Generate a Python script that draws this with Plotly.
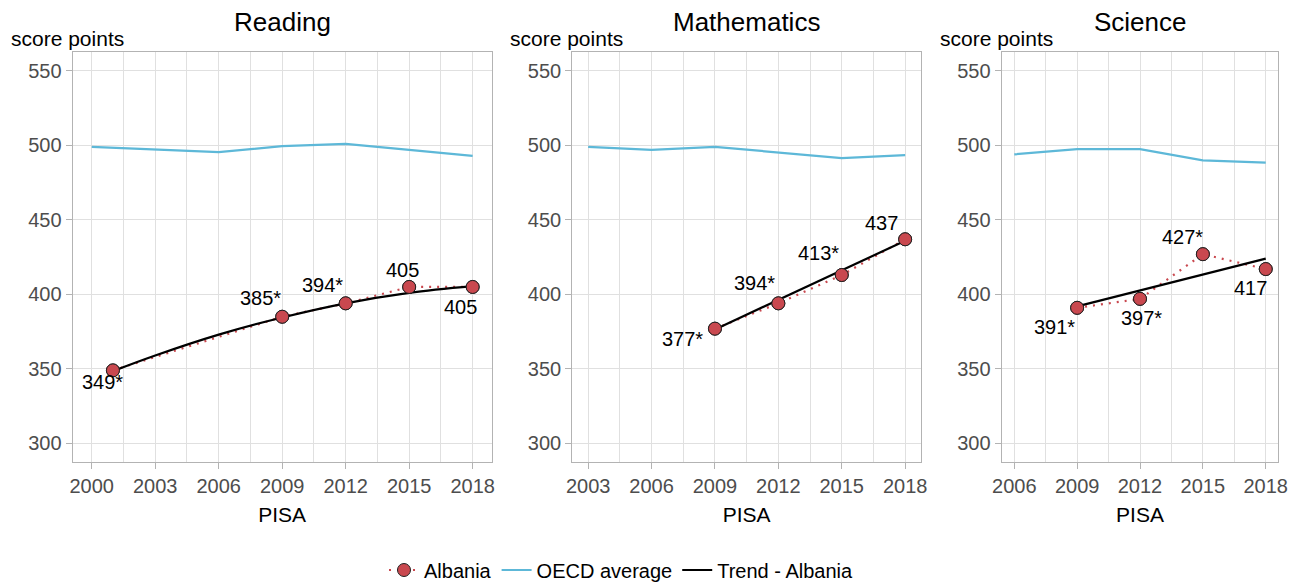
import plotly.graph_objects as go

# ---------------- data ----------------
subjects = ["Reading", "Mathematics", "Science"]

reading_years = [2001, 2009, 2012, 2015, 2018]
reading_albania = [349, 385, 394, 405, 405]
reading_labels = ["349*", "385*", "394*", "405", "405"]
reading_oecd_years = [2000, 2003, 2006, 2009, 2012, 2015, 2018]
reading_oecd = [499, 497, 495.5, 499.5, 501, 497, 493]
reading_trend_years = [2001, 2003, 2006, 2009, 2012, 2015, 2018]
reading_trend = [348.5, 359, 373, 384.5, 394, 401, 405.5]

math_years = [2009, 2012, 2015, 2018]
math_albania = [377, 394, 413, 437]
math_labels = ["377*", "394*", "413*", "437"]
math_oecd_years = [2003, 2006, 2009, 2012, 2015, 2018]
math_oecd = [499, 497, 499, 495.5, 491.5, 493.5]
math_trend_years = [2009, 2018]
math_trend = [376.5, 436]

science_years = [2009, 2012, 2015, 2018]
science_albania = [391, 397, 427, 417]
science_labels = ["391*", "397*", "427*", "417"]
science_oecd_years = [2006, 2009, 2012, 2015, 2018]
science_oecd = [494, 497.5, 497.5, 490, 488.5]
science_trend_years = [2009, 2018]
science_trend = [392, 424]

x_ticks = [2000, 2003, 2006, 2009, 2012, 2015, 2018]
y_ticks = [300, 350, 400, 450, 500, 550]

# ---------------- styling / layout helpers ----------------
OFF = 8  # the page body margin places the figure 8px from the window corner
W, H = 1301 - OFF, 583 - OFF
FONT = "Liberation Sans, Arial, sans-serif"
RED = "#C9484F"
BLUE = "#5DB8D8"
GRID = "#E0E0E0"
BORDER = "#B3B3B3"
TICKC = "#4D4D4D"


def px_x(v):
    return (v - OFF) / W


def px_y(v):
    return (H - (v - OFF)) / H


# panel pixel boxes (window coordinates)
panel_px = [(72.7, 491.7), (572.3, 921.0), (1001.7, 1278.3)]
top_px, bottom_px = 52.3, 462.0
x_ranges = [[1999.1, 2018.9], [2002.25, 2018.75], [2005.4, 2018.6]]
y_range = [287.5, 562.5]

# label offsets in pixels (dx right, dy down)
label_offsets = [
    [(-10, 12), (-22, -19), (-23, -18), (-7, -17), (-12, 20)],
    [(-32, 10), (-24, -20), (-23, -22), (-24, -16)],
    [(-23, 19), (1, 19), (-20, -17), (-15, 19)],
]

panels = [
    (reading_years, reading_albania, reading_labels, reading_oecd_years, reading_oecd,
     reading_trend_years, reading_trend),
    (math_years, math_albania, math_labels, math_oecd_years, math_oecd,
     math_trend_years, math_trend),
    (science_years, science_albania, science_labels, science_oecd_years, science_oecd,
     science_trend_years, science_trend),
]

fig = go.Figure()
annotations = []
layout = {}

for i, (yrs, alb, labs, oy, ov, ty, tv) in enumerate(panels):
    ax = "" if i == 0 else str(i + 1)
    xref, yref = "x" + ax, "y" + ax
    show = i == 0
    fig.add_trace(go.Scatter(
        x=oy, y=ov, mode="lines", name="OECD average",
        line=dict(color=BLUE, width=2.2), xaxis=xref, yaxis=yref,
        showlegend=show, legendrank=2, hoverinfo="skip"))
    fig.add_trace(go.Scatter(
        x=yrs, y=alb, mode="lines+markers", name="Albania",
        line=dict(color=RED, width=2.2, dash="2px,6px"),
        marker=dict(size=13, color=RED, line=dict(color="#222222", width=1)),
        xaxis=xref, yaxis=yref, showlegend=show, legendrank=1))
    fig.add_trace(go.Scatter(
        x=ty, y=tv, mode="lines", name="Trend - Albania",
        line=dict(color="black", width=2.2, shape="spline"),
        xaxis=xref, yaxis=yref, showlegend=show, legendrank=3))
    # re-draw markers above the trend line (no legend)
    fig.add_trace(go.Scatter(
        x=yrs, y=alb, mode="markers", showlegend=False,
        marker=dict(size=13, color=RED, line=dict(color="#222222", width=1)),
        xaxis=xref, yaxis=yref, hoverinfo="skip"))

    for (xv, yv, t, (dx, dy)) in zip(yrs, alb, labs, label_offsets[i]):
        annotations.append(dict(
            x=xv, y=yv, xref=xref, yref=yref, text=t, showarrow=False,
            xshift=dx, yshift=-dy, font=dict(size=20, color="black", family=FONT)))

    l, r = panel_px[i]
    dom_x = [px_x(l), px_x(r)]
    dom_y = [px_y(bottom_px), px_y(top_px)]
    lo, hi = x_ranges[i]
    tv_ = [t for t in x_ticks if lo <= t <= hi]
    layout["xaxis" + ax] = dict(
        domain=dom_x, range=x_ranges[i], anchor=yref,
        tickmode="array", tickvals=tv_, ticktext=[str(t) for t in tv_],
        ticks="outside", ticklen=6, tickcolor=BORDER, tickwidth=1,
        tickfont=dict(size=20, color=TICKC, family=FONT),
        showgrid=True, gridcolor=GRID, gridwidth=1.2,
        minor=dict(dtick=1.5, tick0=tv_[0], showgrid=True, gridcolor=GRID,
                   gridwidth=0.8, ticks=""),
        showline=True, linecolor=BORDER, linewidth=1.2, mirror=True,
        zeroline=False,
        title=dict(text="PISA", font=dict(size=21, color="black", family=FONT),
                   standoff=11))
    layout["yaxis" + ax] = dict(
        domain=dom_y, range=y_range, anchor=xref,
        tickmode="array", tickvals=y_ticks,
        ticks="outside", ticklen=6, tickcolor=BORDER, tickwidth=1,
        tickfont=dict(size=20, color=TICKC, family=FONT),
        showgrid=True, gridcolor=GRID, gridwidth=1.2,
        showline=True, linecolor=BORDER, linewidth=1.2, mirror=True,
        zeroline=False)

    # subject title
    annotations.append(dict(
        x=px_x((l + r) / 2), y=px_y(22), xref="paper", yref="paper",
        text=subjects[i], showarrow=False, xanchor="center", yanchor="middle",
        font=dict(size=26, color="black", family=FONT)))
    # score points label
    annotations.append(dict(
        x=px_x(l - 64), y=px_y(38), xref="paper", yref="paper",
        text="score points", showarrow=False, xanchor="left", yanchor="middle",
        font=dict(size=21, color="black", family=FONT)))

fig.update_layout(
    width=W, height=H,
    margin=dict(l=0, r=0, t=0, b=0, autoexpand=False),
    paper_bgcolor="white", plot_bgcolor="white",
    font=dict(family=FONT),
    showlegend=True,
    legend=dict(orientation="h", x=px_x(384), xanchor="left", y=px_y(570),
                yanchor="middle", font=dict(size=20, color="black", family=FONT),
                traceorder="normal", itemwidth=30, bgcolor="rgba(0,0,0,0)"),
    annotations=annotations,
    **layout,
)

fig.write_html("out.html")
